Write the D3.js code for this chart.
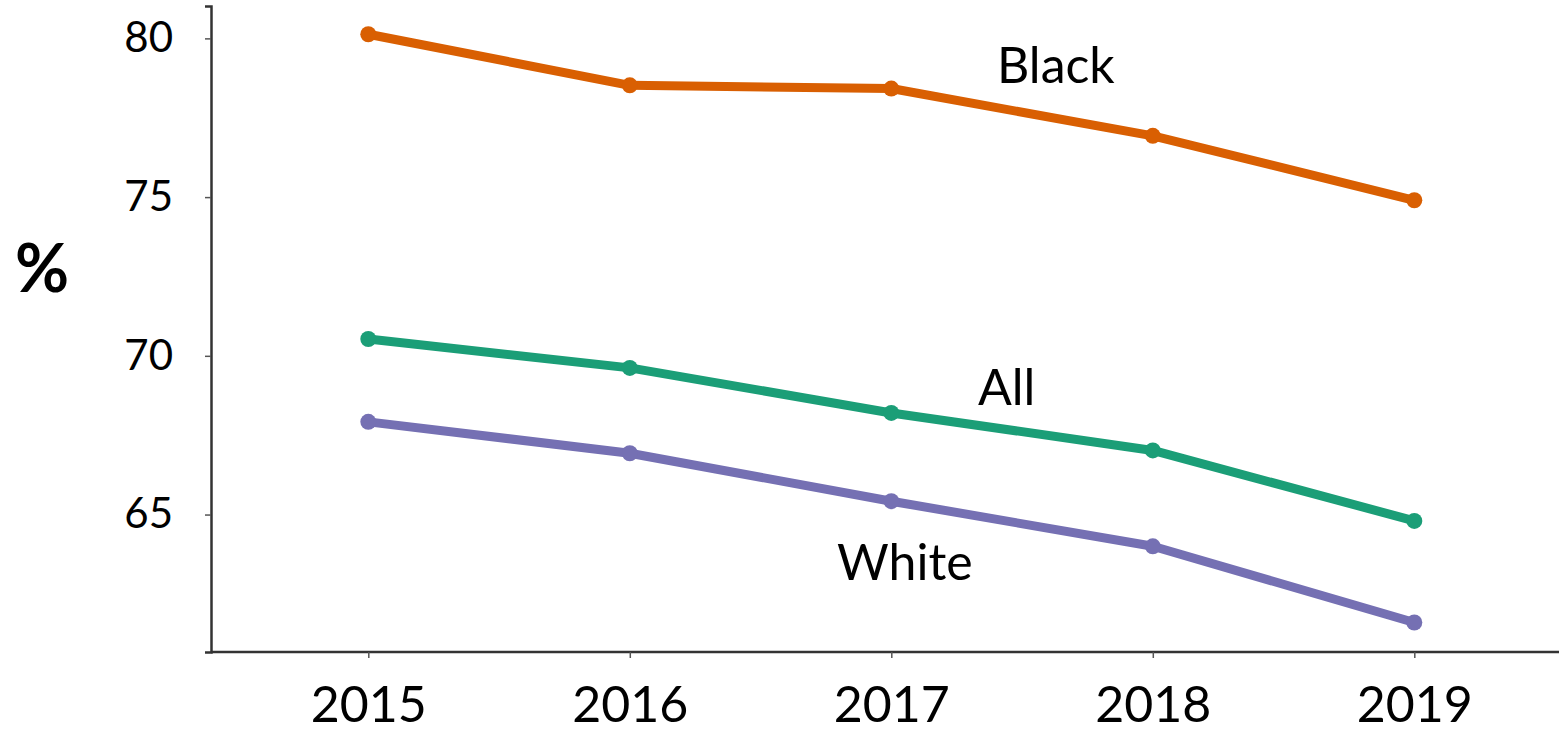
<html>
<head>
<meta charset="utf-8">
<script src="https://d3js.org/d3.v7.min.js"></script>
<style>
  body { margin: 0; background: #fff; }
  text { font-family: "Lato", "Open Sans", sans-serif; fill: #000; }
</style>
</head>
<body>
<svg height="731" width="1559" id="chart"></svg>
<script>

// Years along the x axis
var years = [2015, 2016, 2017, 2018, 2019];

// Percent values, one array per group
var blackValues = [80.13, 78.52, 78.42, 76.93, 74.90];
var allValues = [70.53, 69.62, 68.20, 67.02, 64.80];
var whiteValues = [67.92, 66.93, 65.42, 64.00, 61.60];

var yTicks = [65, 70, 75, 80];

var seriesNames = ["Black", "All", "White"];
var seriesColors = ["#d95f02", "#1b9e77", "#7570b3"];

var series = [blackValues, allValues, whiteValues].map(function(vals, i) {
  return { name: seriesNames[i], color: seriesColors[i],
    points: vals.map(function(v, j) { return { year: years[j], value: v }; }) };
});

var svg = d3.select("#chart");

// plot area (window.top is reserved, so use other names)
var plotLeft = 211, plotRight = 1559, plotTop = 6, plotBottom = 652;

var x = d3.scalePoint()
  .domain(years)
  .range([368.3, 1414.3]);

var y = d3.scaleLinear()
  .domain([60.67, 81.02])
  .range([plotBottom, plotTop]);

// y axis
var yAxis = svg.append("g")
  .attr("transform", "translate(" + plotLeft + ",0)")
  .call(d3.axisLeft(y).tickValues(yTicks).tickSize(6).tickPadding(32));
yAxis.select(".domain").attr("stroke", "#333").attr("stroke-width", 2.5);
yAxis.selectAll(".tick line").attr("stroke", "#555").attr("stroke-width", 1.5);
yAxis.selectAll(".tick text").style("font-size", "42px").attr("fill", "#000");

// x axis
var xAxis = svg.append("g")
  .attr("transform", "translate(0," + plotBottom + ")")
  .call(d3.axisBottom(x).tickSize(6).tickPadding(28));
xAxis.select(".domain").attr("d", "M" + plotLeft + ",0H" + plotRight).attr("stroke", "#333").attr("stroke-width", 2.5);
xAxis.selectAll(".tick line").attr("stroke", "#555").attr("stroke-width", 1.5);
xAxis.selectAll(".tick text").style("font-size", "50px").attr("fill", "#000");

// "%" axis title
svg.append("text")
  .attr("x", 42).attr("y", 292)
  .attr("text-anchor", "middle")
  .style("font-size", "66px")
  .style("font-weight", "bold")
  .text("%");

var line = d3.line()
  .x(function(d) { return x(d.year); })
  .y(function(d) { return y(d.value); });

series.forEach(function(s) {
  svg.append("path")
    .datum(s.points)
    .attr("d", line)
    .attr("fill", "none")
    .attr("stroke", s.color)
    .attr("stroke-width", 9)
    .attr("stroke-linejoin", "round");

  svg.selectAll(null)
    .data(s.points)
    .enter().append("circle")
    .attr("cx", function(d) { return x(d.year); })
    .attr("cy", function(d) { return y(d.value); })
    .attr("r", 8)
    .attr("fill", s.color);
});

// direct labels
var labelPos = [[997, 83], [978, 405], [837, 580]];
seriesNames.forEach(function(n, i) {
  svg.append("text")
    .attr("x", labelPos[i][0]).attr("y", labelPos[i][1])
    .style("font-size", "50px")
    .text(n);
});

</script>
</body>
</html>
